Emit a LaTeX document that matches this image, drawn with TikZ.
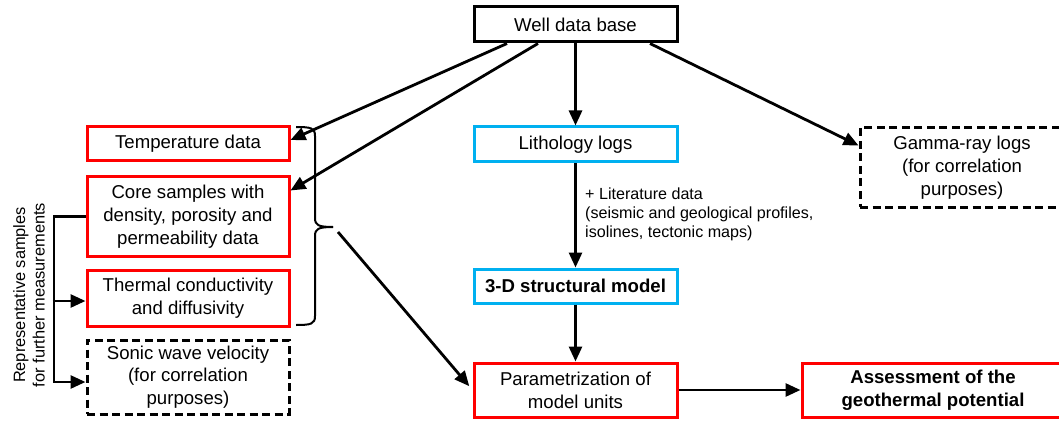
\documentclass[tikz,border=0pt]{standalone}
\usepackage{fontspec}
\setmainfont{Liberation Sans}
\usetikzlibrary{arrows.meta}
\definecolor{myred}{RGB}{255,0,0}
\definecolor{myblue}{RGB}{0,176,240}
\newcommand\mybox{\fontsize{18.6pt}{22.8pt}\selectfont}
\begin{document}
\begin{tikzpicture}[x=1pt,y=-1pt,
  box/.style={draw, line width=3pt, inner sep=0pt, align=center, font=\mybox},
  redbox/.style={box, draw=myred},
  bluebox/.style={box, draw=myblue},
  blackbox/.style={box, draw=black},
  dashbox/.style={box, draw=black, dash pattern=on 8pt off 4.5pt},
  arr/.style={line width=2.8pt, -{Triangle[length=15pt,width=13pt]}},
  bracestyle/.style={line width=2pt},
]
\useasboundingbox (0,0) rectangle (1059,422);
\clip (0,0) rectangle (1059,422);

% nodes
\node[blackbox, minimum width=203pt, minimum height=35pt] (well) at (575.5,24.5) {Well data base};
\node[redbox, minimum width=202pt, minimum height=34pt] (temp) at (188,144) {Temperature data};
\node[redbox, minimum width=202pt, minimum height=79pt] (core) at (188,216.5) {Core samples with\\density, porosity and\\permeability data};
\node[redbox, minimum width=202pt, minimum height=56pt] (therm) at (188,298) {Thermal conductivity\\and diffusivity};
\node[dashbox, minimum width=202pt, minimum height=74pt] (sonic) at (188,377) {Sonic wave velocity\\(for correlation\\purposes)};
\node[bluebox, minimum width=203pt, minimum height=35pt] (litho) at (575.5,144.5) {Lithology logs};
\node[bluebox, minimum width=203pt, minimum height=34pt, font=\mybox\bfseries] (struct) at (575.5,286) {3-D structural model};
\node[redbox, minimum width=203pt, minimum height=54pt] (param) at (575.5,390) {Parametrization of\\model units};
\node[redbox, minimum width=262pt, minimum height=54pt, font=\mybox\bfseries] (assess) at (933,390) {Assessment of the\\geothermal potential};
\node[dashbox, minimum width=204pt, minimum height=79pt] (gamma) at (962,167.5) {Gamma-ray logs\\(for correlation\\purposes)};

\node[anchor=north west, inner sep=0pt, align=left, font=\fontsize{16.1pt}{19pt}\selectfont] (lit) at (585,188) {+ Literature data\\(seismic and geological profiles,\\isolines, tectonic maps)};
\node[rotate=90, inner sep=0pt, align=center, font=\fontsize{16.4pt}{19.5pt}\selectfont] (rep) at (29,295) {Representative samples\\for further measurements};

% connectors from well data base
\draw[arr] ([xshift=-68.5pt]well.south) -- ([yshift=4pt]temp.east);
\draw[arr] ([xshift=-37.5pt]well.south) -- ([yshift=26pt]core.east);
\draw[arr] (well) -- (litho);
\draw[arr] ([xshift=74.5pt]well.south) -- ([yshift=22pt]gamma.west);

\draw[arr] (litho) -- (struct);
\draw[arr] (struct) -- (param);
\draw[arr] (param) -- (assess);

% brace
\draw[bracestyle] (296,127) .. controls (311,127) and (315,128) .. (315,136) -- (315,218) .. controls (315,225) and (318,227) .. (333,227);
\draw[bracestyle] (333,227) .. controls (318,227) and (315,229) .. (315,236) -- (315,316) .. controls (315,324) and (311,325) .. (296,325);
\coordinate (bs) at (338,232);
\draw[arr, shorten >=5pt] (bs) -- (param.west);

% left bracket
\coordinate (bx) at (54,0);
\coordinate (sa) at ([yshift=-5pt]sonic.west);
\coordinate (ta) at ([yshift=-3pt]therm.west);
\draw[arr] (core.west) -| (bx |- sa) -- (sa);
\draw[arr] ([xshift=-1.4pt]bx |- ta) -- (ta);
\end{tikzpicture}
\end{document}
